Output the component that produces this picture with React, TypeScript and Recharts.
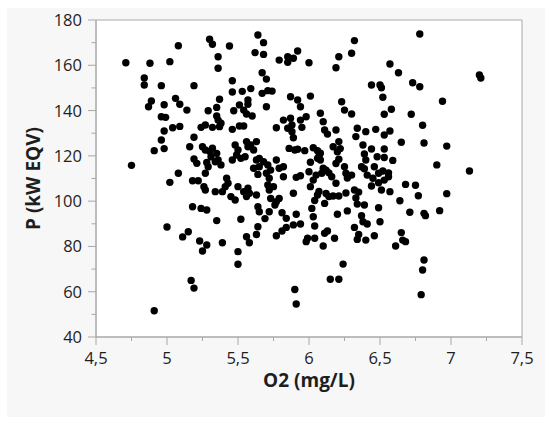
import React from 'react';
import { ScatterChart, Scatter, XAxis, YAxis, ReferenceArea, Label } from 'recharts';

// O2 (mg/L) and P (kW EQV)
const O2 = [
  4.71, 4.75, 4.84, 4.84, 4.87, 4.89, 4.88, 4.91, 4.91, 4.96, 4.99, 4.96, 4.96, 4.98, 4.98, 4.98,
  5.0, 5.02, 5.02, 5.04, 5.06, 5.08, 5.08, 5.09, 5.09, 5.11, 5.14, 5.15, 5.16, 5.17, 5.18, 5.18,
  5.19, 5.19, 5.19, 5.19, 5.21, 5.22, 5.23,
  5.24, 5.27, 5.32, 5.37, 5.25, 5.27, 5.3, 5.32, 5.31, 5.35, 5.34, 5.36, 5.38, 5.28, 5.29, 5.27,
  5.26, 5.27, 5.34, 5.39, 5.41, 5.42, 5.43, 5.45, 5.48, 5.5, 5.54, 5.57, 5.58, 5.63, 5.56, 5.71,
  5.75, 5.72, 5.73, 5.76, 5.79, 5.77, 5.89, 5.91, 5.82, 5.24, 5.28, 5.64, 5.65, 5.69, 5.72, 5.81,
  5.84, 5.91, 5.35, 5.52, 5.64, 5.63, 5.77, 5.81, 5.84, 5.89, 5.94, 5.28, 5.25, 5.39, 5.56, 5.58,
  5.5, 5.5, 5.9, 5.91, 5.64, 5.68, 5.3, 5.32, 5.44, 5.62, 5.68, 5.36, 5.36, 5.79, 5.85, 5.85,
  5.89, 5.92, 5.67, 5.7, 5.46, 5.46, 5.53, 5.59, 5.67, 5.71, 5.74, 5.37, 5.35, 5.29, 5.47, 5.51,
  5.57, 5.57, 5.54, 5.56, 5.6, 5.7, 5.87, 5.92, 5.94, 5.35, 5.36, 5.38, 5.46, 5.51, 5.54, 5.82,
  5.87, 5.88, 5.85, 5.88, 5.89, 5.77, 5.94, 5.48, 5.5, 5.49, 5.46, 5.52, 5.55, 5.56, 5.59, 5.63,
  5.61, 5.57, 5.86, 5.9, 5.63, 5.65, 5.68, 5.61, 5.65, 5.71, 5.73, 5.7, 5.72, 5.77, 5.79, 5.82,
  5.64, 5.92, 5.94,
  6.32, 6.3, 6.21, 6.19, 6.0, 6.57, 6.63, 6.44, 6.5, 6.51, 6.52, 6.58, 6.53, 6.01, 6.23, 6.25,
  6.3, 5.98, 5.95, 6.08, 6.1, 6.11, 6.13, 6.19, 6.34, 6.33, 6.4, 6.47, 6.53, 6.57, 6.65, 5.97,
  6.03, 6.06, 6.08, 6.07, 6.06, 6.08, 6.17, 6.21, 6.2, 6.22, 6.21, 6.19, 6.25, 6.38, 6.39, 6.44,
  6.4, 6.48, 6.53, 6.53, 6.59, 6.01, 6.37, 6.39, 6.46, 6.52, 6.56, 6.56, 6.0, 6.05, 6.09, 6.12,
  6.14, 6.16, 6.26, 6.27, 6.3, 6.41, 6.45, 6.49, 6.03, 6.19, 6.1, 6.01, 6.53, 6.44, 6.51, 6.57,
  6.49, 6.68, 6.75, 6.07, 6.06, 6.04, 6.12, 6.14, 6.17, 6.21, 6.26, 6.11, 6.32, 6.35, 6.33, 6.34,
  6.39, 6.64, 6.02, 6.03, 6.04, 6.2, 6.27, 6.37, 6.38, 6.41, 6.32, 6.49, 6.5, 6.35, 6.34, 6.4,
  6.46, 5.99, 5.98, 6.04, 6.1, 6.11, 6.13, 6.18, 6.65, 6.66, 6.61, 6.68, 6.24, 6.15, 6.21, 6.71,
  6.78, 7.2, 7.21, 6.73, 6.78, 6.94, 6.72, 6.8, 6.81, 6.97, 6.9, 7.13, 6.77, 6.97, 6.81, 6.82,
  6.92, 6.81, 6.8, 6.79,
];

const P = [
  161.1, 115.8, 154.4, 151.3, 141.7, 144.2, 160.9, 122.3, 51.6, 137.3, 137.0, 127.0, 151.0, 142.6, 131.0, 123.2,
  88.6, 161.6, 108.3, 132.4, 145.4, 168.6, 112.3, 142.8, 133.0, 84.2, 140.2, 86.5, 124.0, 65.0, 109.0, 97.5,
  151.0, 128.2, 118.6, 61.6, 116.7, 109.0, 82.4,
  132.6, 133.6, 132.6, 132.9, 124.0, 122.6, 122.0, 123.4, 119.6, 121.1, 117.4, 118.2, 116.0, 117.1, 115.2, 112.3,
  106.4, 104.9, 104.2, 104.2, 106.4, 110.1, 107.9, 102.0, 100.5, 106.4, 104.2, 105.7, 103.5, 102.7, 102.0, 107.1,
  106.4, 104.9, 101.2, 98.3, 101.2, 99.7, 103.5, 110.5, 110.8, 96.8, 96.1, 97.5, 95.3, 92.3, 95.3, 94.9,
  92.4, 94.2, 91.4, 92.0, 88.7, 85.3, 84.7, 86.8, 88.4, 89.5, 89.9, 80.6, 78.0, 81.6, 84.3, 81.6,
  77.7, 72.1, 61.0, 54.6, 173.4, 170.0, 171.5, 169.3, 168.5, 165.6, 164.8, 163.8, 158.7, 162.3, 161.3, 163.8,
  163.1, 166.3, 156.7, 153.9, 153.2, 148.2, 148.5, 149.7, 147.6, 148.8, 148.6, 145.0, 141.4, 139.9, 139.9, 142.5,
  144.7, 142.8, 140.2, 138.5, 137.6, 141.7, 146.1, 144.7, 141.7, 137.6, 135.8, 134.4, 131.7, 133.2, 133.2, 135.8,
  136.6, 133.6, 132.2, 130.7, 128.0, 132.4, 135.8, 124.8, 122.6, 120.4, 118.2, 118.9, 119.6, 126.3, 124.8, 126.3,
  122.6, 124.0, 123.3, 122.6, 118.2, 118.9, 117.4, 114.5, 115.2, 116.0, 113.7, 112.3, 110.1, 118.2, 114.5, 115.2,
  111.8, 122.9, 111.2,
  170.9, 165.3, 163.8, 158.9, 161.1, 160.6, 156.7, 151.3, 151.3, 150.1, 145.9, 140.6, 138.4, 146.4, 143.9, 140.2,
  138.5, 137.3, 132.6, 138.8, 135.1, 131.4, 129.6, 131.4, 132.2, 128.5, 130.7, 131.7, 129.2, 131.0, 126.0, 122.3,
  123.6, 122.3, 121.2, 119.6, 118.9, 118.2, 124.0, 126.3, 121.8, 123.2, 118.5, 116.6, 115.2, 124.8, 120.8, 123.0,
  118.2, 119.6, 119.3, 123.0, 118.0, 117.2, 115.2, 114.3, 115.2, 113.3, 112.5, 110.8, 113.0, 111.5, 112.3, 113.7,
  112.5, 110.8, 112.3, 110.2, 111.5, 111.5, 110.1, 112.3, 109.3, 107.9, 114.5, 106.4, 109.3, 106.7, 104.9, 104.2,
  108.1, 107.4, 107.0, 104.3, 102.7, 100.3, 103.4, 102.0, 102.3, 102.3, 103.6, 99.0, 104.9, 104.0, 101.4, 98.7,
  98.3, 100.2, 96.8, 93.1, 89.0, 94.2, 95.7, 93.6, 90.9, 89.9, 88.4, 97.1, 90.9, 85.3, 83.1, 82.8,
  84.7, 83.6, 82.1, 83.6, 80.2, 85.8, 86.8, 83.6, 86.1, 82.8, 80.2, 82.1, 72.2, 65.5, 65.5, 95.1,
  173.8, 155.7, 154.4, 152.3, 150.5, 144.1, 138.4, 133.5, 125.7, 124.3, 116.0, 113.3, 102.4, 103.3, 94.6, 93.6,
  95.8, 74.0, 69.6, 58.7,
];

const X_TICKS = [4.5, 4.75, 5, 5.25, 5.5, 5.75, 6, 6.25, 6.5, 6.75, 7, 7.25, 7.5];
const Y_TICKS = [40, 50, 60, 70, 80, 90, 100, 110, 120, 130, 140, 150, 160, 170, 180];

const data = O2.map((o2, i) => ({ o2, p: P[i] }));

const AXIS = '#a8a8a8';
const FONT = '"Open Sans", "Noto Sans", sans-serif';
const TEXT = '#1e1e1e';

const fmt = (v: number) => String(v).replace('.', ',');

// ticks drawn by hand so minor ticks get shorter lines and no label
const XTick = (props: any) => {
  const { x, y, payload } = props;
  const v = payload.value;
  const major = Number.isInteger(v * 2);
  const y0 = y - 15;
  return (
    <g>
      <line x1={x} x2={x} y1={y0} y2={y0 + (major ? 8 : 4)} stroke={AXIS} />
      {major && (
        <text x={x} y={y0 + 27} textAnchor="middle" fontSize={16.5} fontFamily={FONT} fill={TEXT}>
          {fmt(v)}
        </text>
      )}
    </g>
  );
};

const YTick = (props: any) => {
  const { x, y, payload } = props;
  const v = payload.value;
  const major = v % 20 === 0;
  const x0 = x + 14;
  return (
    <g>
      <line x1={x0 - (major ? 8 : 4.5)} x2={x0} y1={y} y2={y} stroke={AXIS} />
      {major && (
        <text x={x0 - 14} y={y + 6} textAnchor="end" fontSize={16.5} fontFamily={FONT} fill={TEXT}>
          {v}
        </text>
      )}
    </g>
  );
};

const Dot = (props: any) => <circle cx={props.cx} cy={props.cy} r={3.7} fill="#000" />;

export default function App() {
  return (
    <div style={{ position: 'absolute', left: 0, top: 0, width: 550, height: 428, background: '#fff' }}>
      <div style={{ position: 'absolute', left: 7, top: 8, width: 538, height: 409, background: '#f7f7f7' }}>
        <ScatterChart width={538} height={409} margin={{ top: 12, right: 23, left: 0, bottom: 0 }}>
          <ReferenceArea
            x1={4.5}
            x2={7.5}
            y1={40}
            y2={180}
            fill="#fff"
            fillOpacity={1}
            stroke={AXIS}
            strokeWidth={1}
          />
          <XAxis
            type="number"
            dataKey="o2"
            domain={[4.5, 7.5]}
            ticks={X_TICKS}
            interval={0}
            height={80}
            tickSize={8}
            tickMargin={7}
            tickLine={false}
            axisLine={{ stroke: AXIS }}
            tick={XTick}
          >
            <Label
              value="O2 (mg/L)"
              position="insideBottom"
              offset={30}
              style={{ fontFamily: FONT, fontSize: 19, fontWeight: 700, fill: TEXT }}
            />
          </XAxis>
          <YAxis
            type="number"
            dataKey="p"
            domain={[40, 180]}
            ticks={Y_TICKS}
            interval={0}
            width={89}
            tickSize={8}
            tickMargin={6}
            tickLine={false}
            axisLine={{ stroke: AXIS }}
            tick={YTick}
          >
            <Label
              value="P (kW EQV)"
              angle={-90}
              position="insideLeft"
              offset={26}
              style={{ fontFamily: FONT, fontSize: 19, fontWeight: 700, fill: TEXT, textAnchor: 'middle' }}
            />
          </YAxis>
          <Scatter data={data} shape={Dot} isAnimationActive={false} />
        </ScatterChart>
      </div>
    </div>
  );
}
